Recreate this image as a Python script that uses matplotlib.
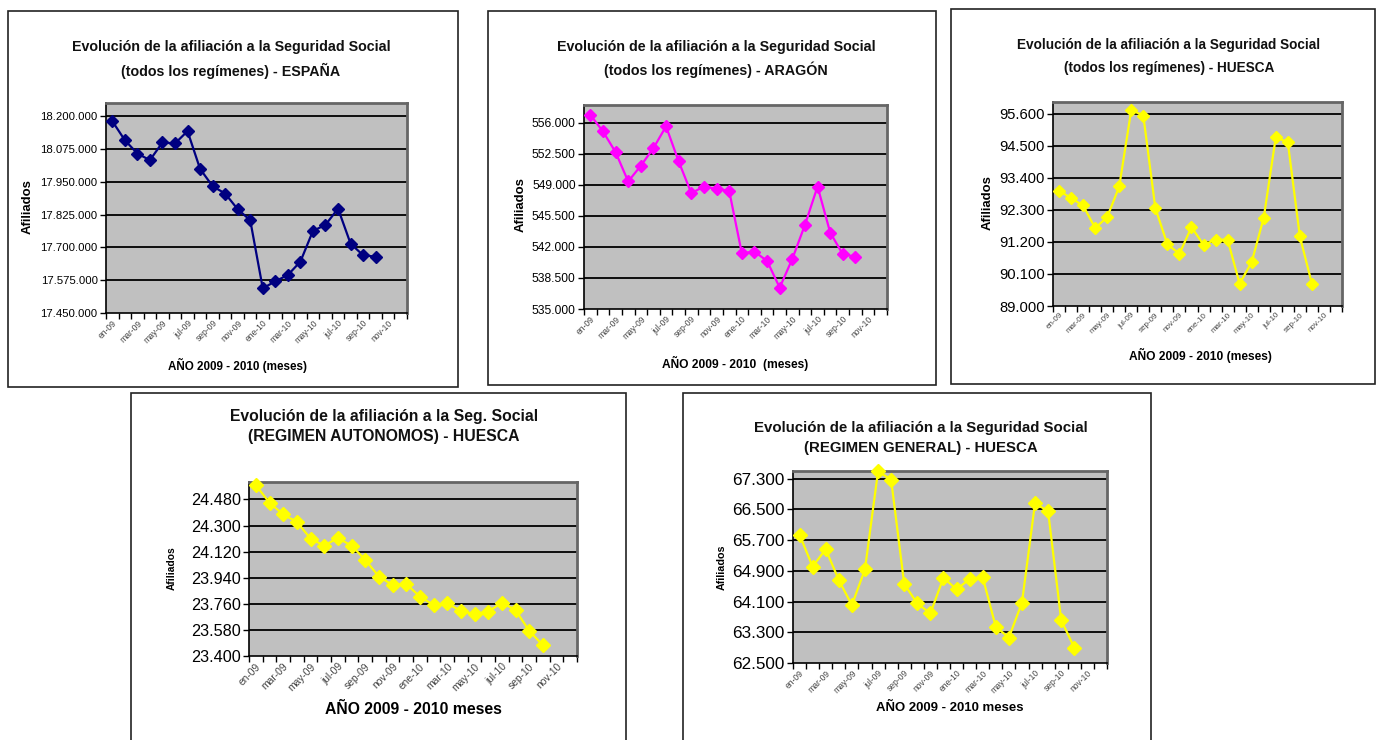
import matplotlib
matplotlib.use("Agg")
import matplotlib.pyplot as plt
from matplotlib import font_manager
from matplotlib.patches import Rectangle
from matplotlib.ticker import FuncFormatter

# --- data ---
meses = ['en-09', 'mar-09', 'may-09', 'jul-09', 'sep-09', 'nov-09',
         'ene-10', 'mar-10', 'may-10', 'jul-10', 'sep-10', 'nov-10']

espana = [18181000, 18108500, 18057600, 18032200, 18099600, 18095800,
          18142800, 17999100, 17933000, 17905100, 17845300, 17803400,
          17544000, 17570700, 17594900, 17645700, 17762700, 17785600,
          17847900, 17714400, 17669900, 17664800]

aragon = [556900, 555020, 552690, 549380, 551150, 553140, 555590, 551630,
          548060, 548810, 548550, 548320, 541290, 541470, 540420, 537410,
          540650, 544480, 548810, 543620, 541170, 540910]

huesca = [92963, 92701, 92449, 91673, 92050, 93101, 95728, 95534, 92358,
          91113, 90793, 91707, 91102, 91273, 91273, 89765, 90508, 92027,
          94791, 94620, 91387, 89765]

autonomos = [24578, 24457, 24376, 24325, 24210, 24161, 24214, 24161, 24064,
             23948, 23890, 23897, 23810, 23752, 23763, 23710, 23689, 23705,
             23768, 23717, 23574, 23474]

general = [65838, 65010, 65463, 64661, 64008, 64940, 67493, 67276, 64557,
           64051, 63790, 64722, 64417, 64687, 64731, 63441, 63162, 64069,
           66666, 66448, 63615, 62901]

W, H = 1378, 740

names = {f.name for f in font_manager.fontManager.ttflist}
if 'Liberation Sans Narrow' in names:
    FONT, k = 'Liberation Sans Narrow', 1.0
else:
    FONT, k = 'Liberation Sans', 0.82
plt.rcParams['font.family'] = [FONT, 'DejaVu Sans']

fig = plt.figure(figsize=(W / 100, H / 100), dpi=100)


def px(x, y):
    return x / W, 1 - y / H


# panel frames (outer boxes)
boxes = [(8, 11, 458, 387), (488, 11, 936, 385), (951, 9, 1375, 384),
         (131, 393, 626, 760), (683, 393, 1151, 760)]
for x0, y0, x1, y1 in boxes:
    fig.patches.append(Rectangle(px(x0, y1), (x1 - x0) / W, (y1 - y0) / H,
                                 transform=fig.transFigure, fill=False,
                                 edgecolor='#222222', linewidth=1.2))

panels = [
    dict(data=espana, color='#000080',
         title=['Evolución de la afiliación a la Seguridad Social',
                '(todos los regímenes) - ESPAÑA'],
         xlabel='AÑO 2009 - 2010 (meses)',
         ax=(106, 103, 407, 313), ymin=17450000, step=125000, ymax=18250000,
         tx=231, ty=(47, 71), xl=(238, 365), yl=(28, 207),
         fs_t=12.5, fs_y=10, fs_x=7.5, fs_l=10.2, fs_a=11.5, ms=6),
    dict(data=aragon, color='#FF00FF',
         title=['Evolución de la afiliación a la Seguridad Social',
                '(todos los regímenes) - ARAGÓN'],
         xlabel='AÑO 2009 - 2010  (meses)',
         ax=(584, 105, 887, 309), ymin=535000, step=3500, ymax=558000,
         tx=716, ty=(47, 70), xl=(735, 363), yl=(521, 205),
         fs_t=12.5, fs_y=10.5, fs_x=7.5, fs_l=10.5, fs_a=11.5, ms=6.3),
    dict(data=huesca, color='#FFFF00',
         title=['Evolución de la afiliación a la Seguridad Social',
                '(todos los regímenes) - HUESCA'],
         xlabel='AÑO 2009 - 2010 (meses)',
         ax=(1053, 102, 1342, 306), ymin=89000, step=1100, ymax=96000,
         tx=1169, ty=(45, 68), xl=(1200, 355), yl=(988, 203),
         fs_t=12, fs_y=13, fs_x=7, fs_l=10.5, fs_a=11.5, ms=6.5),
    dict(data=autonomos, color='#FFFF00',
         title=['Evolución de la afiliación a la Seg. Social',
                '(REGIMEN AUTONOMOS) - HUESCA'],
         xlabel='AÑO 2009 - 2010 meses',
         ax=(249, 482, 577, 656), ymin=23400, step=180, ymax=24600,
         tx=384, ty=(417, 437), xl=(413, 710), yl=(172, 568),
         fs_t=13.8, fs_y=14.3, fs_x=9, fs_l=13.8, fs_a=9, ms=7.2),
    dict(data=general, color='#FFFF00',
         title=['Evolución de la afiliación a la Seguridad Social',
                '(REGIMEN GENERAL) - HUESCA'],
         xlabel='AÑO 2009 - 2010 meses',
         ax=(793, 471, 1107, 663), ymin=62500, step=800, ymax=67500,
         tx=921, ty=(428, 448), xl=(950, 708), yl=(722, 567),
         fs_t=13.2, fs_y=15, fs_x=7.5, fs_l=11.5, fs_a=9.5, ms=7.2),
]

fmt = FuncFormatter(lambda v, p: f'{int(round(v)):,}'.replace(',', '.'))

for p in panels:
    x0, y0, x1, y1 = p['ax']
    l, b = px(x0, y1)
    ax = fig.add_axes([l, b, (x1 - x0) / W, (y1 - y0) / H])
    ax.set_facecolor('#C0C0C0')
    xs = list(range(len(p['data'])))
    ax.plot(xs, p['data'], color=p['color'], linewidth=1.6, marker='D',
            markersize=p['ms'], markeredgecolor=p['color'], zorder=3,
            clip_on=False)
    ax.set_xlim(-0.5, 23.5)
    ax.set_ylim(p['ymin'], p['ymax'])
    yt = [p['ymin'] + i * p['step'] for i in range(20)
          if p['ymin'] + i * p['step'] <= p['ymax'] + 1]
    ax.set_yticks(yt)
    ax.yaxis.set_major_formatter(fmt)
    for v in yt[1:]:
        ax.axhline(v, color='black', linewidth=1.3, zorder=1)
    ax.set_xticks(range(0, 24, 2))
    ax.set_xticklabels(meses, rotation=45, ha='right', va='top',
                       rotation_mode='anchor', fontsize=p['fs_x'] * k,
                       color='#444444')
    ax.set_xticks([i - 0.5 for i in range(25)], minor=True)
    ax.tick_params(axis='x', which='major', length=0, pad=4)
    ax.tick_params(axis='x', which='minor', length=4, direction='out',
                   width=1, color='black')
    ax.tick_params(axis='y', length=4, direction='out', width=1,
                   labelsize=p['fs_y'] * k, pad=2)
    for s in ('top', 'right'):
        ax.spines[s].set_color('#666666')
        ax.spines[s].set_linewidth(2)
    for s in ('left', 'bottom'):
        ax.spines[s].set_color('black')
        ax.spines[s].set_linewidth(1.2)

    fx = p['tx'] / W
    for line, ty in zip(p['title'], p['ty']):
        fig.text(fx, 1 - ty / H, line, ha='center', va='center',
                 fontsize=p['fs_t'] * k, fontweight='bold', color='#111111')
    fig.text(p['xl'][0] / W, 1 - p['xl'][1] / H, p['xlabel'], ha='center',
             va='center', fontsize=p['fs_l'] * k, fontweight='bold')
    fig.text(p['yl'][0] / W, 1 - p['yl'][1] / H, 'Afiliados', ha='center',
             va='center', rotation=90, fontsize=p['fs_a'] * k,
             fontweight='bold')

fig.savefig('out.png', dpi=100, facecolor='white')
